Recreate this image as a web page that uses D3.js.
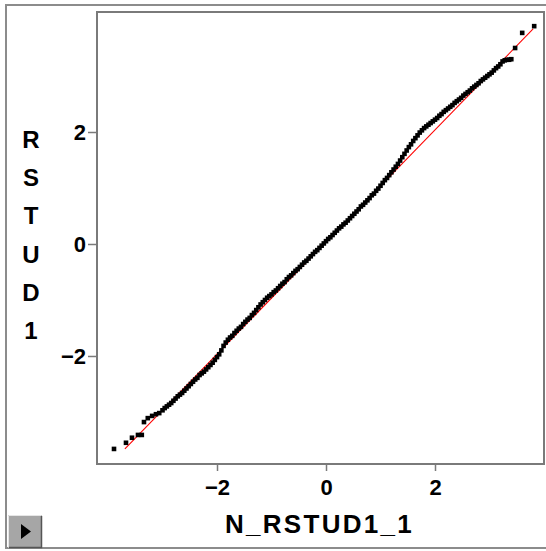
<!DOCTYPE html>
<html>
<head>
<meta charset="utf-8">
<script src="https://cdn.jsdelivr.net/npm/d3@7"></script>
<style>
  html, body { margin: 0; padding: 0; background: #ffffff; }
  svg { display: block; }
</style>
</head>
<body>
<script>
// Normal scores (theoretical quantiles) of the studentized residuals
const normalScores = [
  -3.89, -3.67, -3.56, -3.45, -3.38, -3.34, -3.27, -3.19, -3.12, -3.06,
  -3.00, -2.96, -2.92, -2.88, -2.84, -2.80, -2.76, -2.72, -2.68, -2.64,
  -2.60, -2.56, -2.52, -2.48, -2.44, -2.40, -2.36, -2.32, -2.28, -2.24,
  -2.20, -2.16, -2.12, -2.08, -2.04, -2.00, -1.96, -1.92, -1.88, -1.84,
  -1.80, -1.76, -1.72, -1.68, -1.64, -1.60, -1.56, -1.52, -1.48, -1.44,
  -1.40, -1.36, -1.32, -1.28, -1.24, -1.20, -1.16, -1.12, -1.08, -1.04,
  -1.00, -0.96, -0.92, -0.88, -0.84, -0.80, -0.76, -0.72, -0.68, -0.64,
  -0.60, -0.56, -0.52, -0.48, -0.44, -0.40, -0.36, -0.32, -0.28, -0.24,
  -0.20, -0.16, -0.12, -0.08, -0.04, 0.00, 0.04, 0.08, 0.12, 0.16,
  0.20, 0.24, 0.28, 0.32, 0.36, 0.40, 0.44, 0.48, 0.52, 0.56,
  0.60, 0.64, 0.68, 0.72, 0.76, 0.80, 0.84, 0.88, 0.92, 0.96,
  1.00, 1.04, 1.08, 1.12, 1.16, 1.20, 1.24, 1.28, 1.32, 1.36,
  1.40, 1.44, 1.48, 1.52, 1.56, 1.60, 1.64, 1.68, 1.72, 1.76,
  1.80, 1.84, 1.88, 1.92, 1.96, 2.00, 2.04, 2.08, 2.12, 2.16,
  2.20, 2.24, 2.28, 2.32, 2.36, 2.40, 2.44, 2.48, 2.52, 2.56,
  2.60, 2.64, 2.68, 2.72, 2.76, 2.80, 2.84, 2.88, 2.92, 2.96,
  3.00, 3.04, 3.08, 3.12, 3.16, 3.20, 3.24, 3.28, 3.32, 3.36,
  3.40, 3.47, 3.60, 3.82
];

// Studentized residuals RSTUD1, sorted
const rstud1 = [
  -3.66, -3.55, -3.46, -3.41, -3.41, -3.18, -3.11, -3.07, -3.04, -3.02,
  -2.97, -2.93, -2.90, -2.87, -2.84, -2.80, -2.76, -2.72, -2.69, -2.66,
  -2.62, -2.58, -2.54, -2.50, -2.46, -2.42, -2.39, -2.34, -2.31, -2.28,
  -2.24, -2.20, -2.16, -2.12, -2.07, -2.02, -1.97, -1.90, -1.82, -1.76,
  -1.71, -1.67, -1.64, -1.59, -1.55, -1.51, -1.48, -1.43, -1.39, -1.35,
  -1.32, -1.27, -1.23, -1.18, -1.13, -1.08, -1.04, -1.00, -0.96, -0.93,
  -0.90, -0.86, -0.83, -0.79, -0.75, -0.71, -0.68, -0.63, -0.59, -0.56,
  -0.52, -0.48, -0.45, -0.41, -0.37, -0.33, -0.30, -0.26, -0.22, -0.18,
  -0.14, -0.11, -0.07, -0.03, 0.01, 0.05, 0.09, 0.12, 0.16, 0.20,
  0.24, 0.28, 0.31, 0.35, 0.38, 0.42, 0.46, 0.50, 0.54, 0.58,
  0.62, 0.67, 0.70, 0.74, 0.78, 0.82, 0.87, 0.90, 0.95, 0.99,
  1.04, 1.09, 1.14, 1.18, 1.23, 1.28, 1.33, 1.38, 1.43, 1.49,
  1.55, 1.61, 1.67, 1.73, 1.78, 1.84, 1.89, 1.94, 1.99, 2.03,
  2.07, 2.10, 2.13, 2.16, 2.19, 2.22, 2.25, 2.29, 2.32, 2.36,
  2.39, 2.42, 2.45, 2.48, 2.52, 2.55, 2.58, 2.61, 2.65, 2.68,
  2.71, 2.74, 2.78, 2.81, 2.84, 2.87, 2.91, 2.94, 2.97, 3.00,
  3.03, 3.06, 3.10, 3.14, 3.17, 3.21, 3.26, 3.28, 3.29, 3.29,
  3.30, 3.50, 3.77, 3.89
];

// Fitted reference line (end points in data units)
const refLineX = [-3.69, 3.80];
const refLineY = [-3.66, 3.84];

// Axis ticks and titles
const xTicks = [-2, 0, 2];
const yTicks = [-2, 0, 2];
const xDomain = [-4.202, 4.0];
const yDomain = [-3.929, 4.143];
const xTitle = "N_RSTUD1_1";
const yTitle = "RSTUD1";

const W = 546, H = 551;
const plot = { left: 97, right: 544, top: 12, bottom: 464 };
const font = "'Liberation Sans', Arial, Helvetica, sans-serif";

const svg = d3.select("body").append("svg")
  .attr("width", W).attr("height", H);

// window frame
svg.append("rect")
  .attr("x", 6).attr("y", 5).attr("width", 546).attr("height", 543)
  .attr("fill", "#ffffff").attr("stroke", "#8c8c8c").attr("stroke-width", 2);

const x = d3.scaleLinear().domain(xDomain).range([plot.left, plot.right]);
const y = d3.scaleLinear().domain(yDomain).range([plot.bottom, plot.top]);

// plot box
svg.append("rect")
  .attr("x", plot.left).attr("y", plot.top)
  .attr("width", plot.right - plot.left).attr("height", plot.bottom - plot.top)
  .attr("fill", "#ffffff").attr("stroke", "#7a7a7a").attr("stroke-width", 2);

// axes
const fmt = d => (d < 0 ? "\u2212" : "") + Math.abs(d);

const xAxis = svg.append("g")
  .attr("transform", `translate(0,${plot.bottom})`)
  .call(d3.axisBottom(x).tickValues(xTicks).tickFormat(fmt).tickSize(7).tickPadding(4).tickSizeOuter(0));
const yAxis = svg.append("g")
  .attr("transform", `translate(${plot.left},0)`)
  .call(d3.axisLeft(y).tickValues(yTicks).tickFormat(fmt).tickSize(9).tickPadding(2).tickSizeOuter(0));

[xAxis, yAxis].forEach(g => {
  g.select(".domain").remove();
  g.selectAll(".tick line").attr("stroke", "#7a7a7a").attr("stroke-width", 1.5);
  g.selectAll(".tick text")
    .attr("fill", "#000")
    .style("font-family", font)
    .style("font-weight", "bold")
    .style("font-size", "22px");
});
yAxis.selectAll(".tick text").attr("dy", "0.36em");
xAxis.selectAll(".tick text").attr("dy", "0.93em");

// reference line
svg.append("line")
  .attr("x1", x(refLineX[0])).attr("y1", y(refLineY[0]))
  .attr("x2", x(refLineX[1])).attr("y2", y(refLineY[1]))
  .attr("stroke", "#ff0000").attr("stroke-width", 1.1);

// points
const pts = normalScores.map((v, i) => [v, rstud1[i]]);
const s = 4.6;
svg.append("g").selectAll("rect").data(pts).join("rect")
  .attr("x", d => x(d[0]) - s / 2)
  .attr("y", d => y(d[1]) - s / 2)
  .attr("width", s).attr("height", s)
  .attr("fill", "#000");

// x title
svg.append("text")
  .attr("x", (plot.left + plot.right) / 2 - 1).attr("y", 533)
  .attr("text-anchor", "middle")
  .style("font-family", font).style("font-weight", "bold")
  .style("font-size", "26px").style("letter-spacing", "2.3px")
  .text(xTitle);

// y title, stacked letters
const yt = svg.append("text")
  .attr("text-anchor", "middle")
  .style("font-family", font).style("font-weight", "bold")
  .style("font-size", "24px");
yTitle.split("").forEach((ch, i) => {
  yt.append("tspan").attr("x", 31).attr("y", 148 + i * 38.2).text(ch);
});

// scroll button at the lower left
const btn = svg.append("g");
btn.append("rect").attr("x", 8).attr("y", 515).attr("width", 34).attr("height", 33)
  .attr("fill", "#a6a6a6");
btn.append("path").attr("d", "M8.5,547.5 V515.5 H41.5").attr("fill", "none")
  .attr("stroke", "#e6e6e6").attr("stroke-width", 1);
btn.append("path").attr("d", "M9,547.5 H41.5 V516").attr("fill", "none")
  .attr("stroke", "#555555").attr("stroke-width", 1.5);
btn.append("path").attr("d", "M21,524 L31,531.5 L21,539 Z").attr("fill", "#000");
</script>
</body>
</html>
